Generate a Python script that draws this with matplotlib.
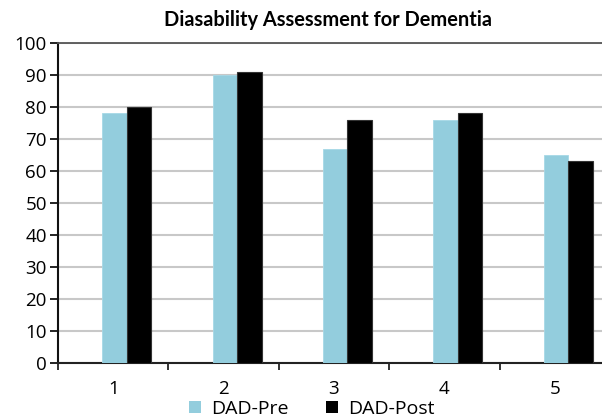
import numpy as np
import matplotlib
matplotlib.use("Agg")
import matplotlib.pyplot as plt
from matplotlib.patches import Patch

# Scores per assessment, before and after the intervention
categories = ["1", "2", "3", "4", "5"]
dad_pre = [78, 90, 67, 76, 65]
dad_post = [80, 91, 76, 78, 63]
y_ticks = [0, 10, 20, 30, 40, 50, 60, 70, 80, 90, 100]

PRE_COLOR = "#93cddd"
POST_COLOR = "#000000"

plt.rcParams["font.family"] = ["Open Sans", "DejaVu Sans"]

fig = plt.figure(figsize=(6.02, 4.17), dpi=100)
ax = fig.add_axes([0.0963, 0.1295, 0.917, 0.7674])

x = np.arange(len(categories))
bar_w = 0.222

ax.bar(x + 0.011, dad_pre, width=bar_w, color=PRE_COLOR,
       edgecolor="#a6d8e6", linewidth=0.6, zorder=3)
ax.bar(x + 0.011 + bar_w, dad_post, width=bar_w, color=POST_COLOR,
       edgecolor="#333333", linewidth=0.8, zorder=3)

ax.set_xlim(-0.5, 4.5)
ax.set_ylim(0, 100)

# tick marks sit between categories, labels in the middle
ax.set_xticks(np.arange(-0.5, 5.0, 1.0))
ax.set_xticklabels([])
ax.set_xticks(x, minor=True)
ax.set_xticklabels(categories, minor=True)
ax.tick_params(axis="x", which="major", length=5, width=1.3, direction="out",
               color="#222222")
ax.tick_params(axis="x", which="minor", length=0, pad=12, labelsize=13.5)

ax.set_yticks(y_ticks)
ax.tick_params(axis="y", length=6, width=1.3, direction="out", pad=2,
               labelsize=13.5, color="#111111")

ax.yaxis.grid(True, color="#c8c8c8", linewidth=1.5, zorder=0)
ax.set_axisbelow(True)

ax.spines["left"].set_linewidth(1.5)
ax.spines["left"].set_color("#111111")
ax.spines["bottom"].set_linewidth(1.5)
ax.spines["bottom"].set_color("#222222")
ax.spines["top"].set_linewidth(1.3)
ax.spines["top"].set_color("#555555")
ax.spines["right"].set_visible(False)

fig.text(0.545, 0.952, "Diasability Assessment for Dementia",
         ha="center", va="center", fontsize=14.4, fontweight="bold",
         family=["Lato", "DejaVu Sans"])

handles = [Patch(facecolor=PRE_COLOR, edgecolor="none", label="DAD-Pre"),
           Patch(facecolor=POST_COLOR, edgecolor="none", label="DAD-Post")]
fig.legend(handles=handles, loc="center", bbox_to_anchor=(0.518, 0.019),
           ncol=2, frameon=False, fontsize=14, handlelength=0.6,
           handleheight=0.6, handletextpad=0.5, columnspacing=1.95,
           borderaxespad=0, borderpad=0)

fig.savefig("out.png", dpi=100)
